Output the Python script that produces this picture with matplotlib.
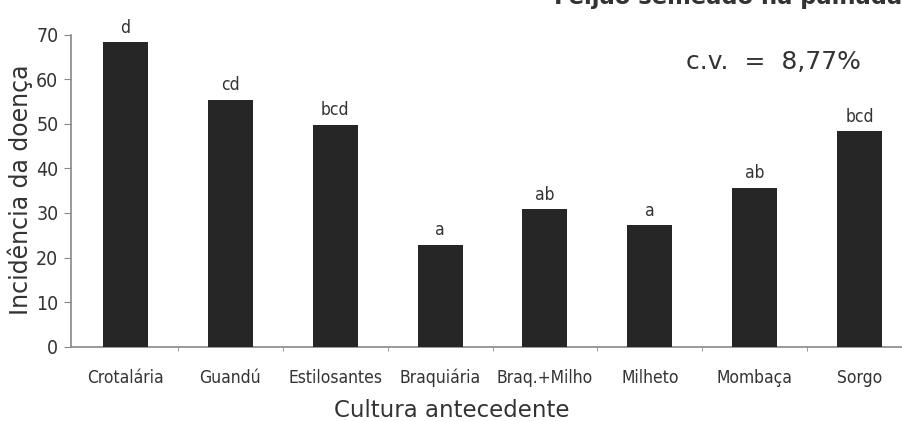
import matplotlib.pyplot as plt
from matplotlib import font_manager

culturas = ['Crotalária', 'Guandú', 'Estilosantes', 'Braquiária', 'Braq.+Milho',
            'Milheto', 'Mombaça', 'Sorgo']
incidencia = [68.3, 55.4, 49.8, 22.9, 30.8, 27.2, 35.6, 48.3]
letras = ['d', 'cd', 'bcd', 'a', 'ab', 'a', 'ab', 'bcd']
y_ticks = [0, 10, 20, 30, 40, 50, 60, 70]

# condensed face for the tick labels, if one is installed
narrow_fp = font_manager.FontProperties(family='DejaVu Sans', stretch='condensed')
for name in ['Liberation Sans Narrow', 'DejaVu Sans Condensed']:
    if name in {f.name for f in font_manager.fontManager.ttflist}:
        narrow_fp = font_manager.FontProperties(family=name)
        break

fig = plt.figure(figsize=(9.02, 4.21), dpi=100)
ax = fig.add_axes([0.0787, 0.1765, 0.9323, 0.741])

x = list(range(len(culturas)))
ax.bar(x, incidencia, width=0.43, color='#262626', zorder=3)
for xi, v, l in zip(x, incidencia, letras):
    fp = narrow_fp.copy()
    fp.set_size(12.5)
    ax.text(xi, v + 1.3, l, ha='center', va='bottom', fontproperties=fp,
            color='#333333')

ax.set_xlim(-0.52, 7.5)
ax.set_ylim(0, 70)
ax.set_yticks(y_ticks)
ax.set_yticklabels([str(t) for t in y_ticks], color='#333333')
ax.set_xticks(x)
ax.set_xticklabels(culturas, color='#333333')
for lab in ax.get_yticklabels():
    lab.set_fontproperties(narrow_fp)
    lab.set_fontsize(14)
for lab in ax.get_xticklabels():
    lab.set_fontproperties(narrow_fp)
    lab.set_fontsize(12.5)
ax.set_xticks([i + 0.5 for i in x[:-1]], minor=True)
ax.tick_params(axis='x', which='major', length=0, pad=16)
ax.tick_params(axis='x', which='minor', length=3, color='#888888')
ax.tick_params(axis='y', length=5, color='#888888', pad=4)

for s in ['top', 'right']:
    ax.spines[s].set_visible(False)
for s in ['left', 'bottom']:
    ax.spines[s].set_color('#888888')
    ax.spines[s].set_linewidth(1.2)

fig.text(0.022, 0.55, 'Incidência da doença', rotation=90, ha='center', va='center',
         fontsize=17, color='#333333')
fig.text(0.501, 0.026, 'Cultura antecedente', ha='center', va='center',
         fontsize=16.5, color='#333333')
fig.text(0.76, 0.853, 'c.v.  =  8,77%', ha='left', va='center', fontsize=18,
         color='#333333')
fig.text(1.0, 0.99, 'Feijão semeado na palhada', ha='right', va='baseline',
         fontsize=16.3, fontweight='bold', color='#333333')

fig.savefig('out.png', dpi=100)
